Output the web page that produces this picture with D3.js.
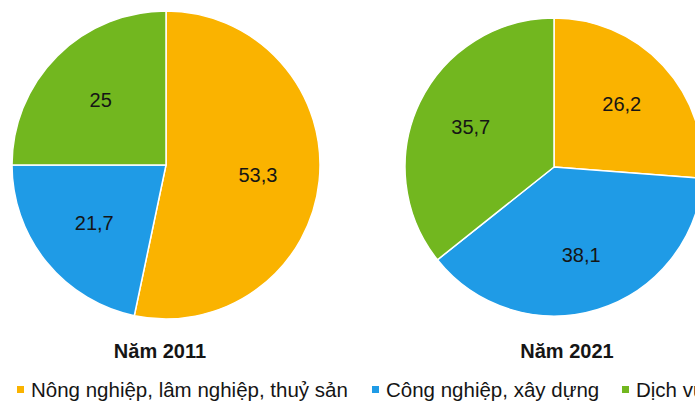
<!DOCTYPE html>
<html>
<head>
<meta charset="utf-8">
<script src="https://cdn.jsdelivr.net/npm/d3@7"></script>
<style>
  html, body { margin: 0; padding: 0; background: #fff; }
  svg { display: block; font-family: "Liberation Sans", Arial, sans-serif; }
</style>
</head>
<body>
<svg id="chart" width="695" height="406"></svg>
<script>
// Cơ cấu kinh tế theo khu vực (%)
const sectors = ["Nông nghiệp, lâm nghiệp, thuỷ sản", "Công nghiệp, xây dựng", "Dịch vụ"];
const years = ["Năm 2011", "Năm 2021"];
const values2011 = [53.3, 21.7, 25];
const values2021 = [26.2, 38.1, 35.7];
const sectorColors = ["#FAB300", "#1F9BE6", "#72B71F"];

const svg = d3.select("#chart");
const color = d3.scaleOrdinal().domain(sectors).range(sectorColors);
const fmt = v => String(v).replace(".", ",");

const pies = [
  { title: years[0], values: values2011, cx: 166, cy: 165, r: 154, titleX: 160, labelK: 0.6 },
  { title: years[1], values: values2021, cx: 554, cy: 167, r: 149, titleX: 567, labelK: 0.62 }
];

const pie = d3.pie().sort(null).value(d => d.value);

pies.forEach(p => {
  const data = sectors.map((s, i) => ({ sector: s, value: p.values[i] }));
  const arcs = pie(data);
  const arc = d3.arc().innerRadius(0).outerRadius(p.r);
  const lr = p.r * p.labelK;
  const labelArc = d3.arc().innerRadius(lr).outerRadius(lr);

  const g = svg.append("g").attr("transform", `translate(${p.cx},${p.cy})`);

  g.selectAll("path")
    .data(arcs)
    .join("path")
    .attr("d", arc)
    .attr("fill", d => color(d.data.sector))
    .attr("stroke", "#fff")
    .attr("stroke-width", 1.5);

  g.selectAll("text")
    .data(arcs)
    .join("text")
    .attr("transform", d => `translate(${labelArc.centroid(d)})`)
    .attr("text-anchor", "middle")
    .attr("dy", "0.35em")
    .attr("font-size", 20)
    .attr("fill", "#151515")
    .text(d => fmt(d.data.value));

  svg.append("text")
    .attr("x", p.titleX)
    .attr("y", 358)
    .attr("text-anchor", "middle")
    .attr("font-size", 20)
    .attr("font-weight", "bold")
    .attr("fill", "#151515")
    .text(p.title);
});

// Chú giải
const legendX = [17, 372, 622];
const legend = svg.append("g");
sectors.forEach((s, i) => {
  const item = legend.append("g").attr("transform", `translate(${legendX[i]},0)`);
  item.append("rect")
    .attr("x", 0).attr("y", 386)
    .attr("width", 7).attr("height", 7)
    .attr("fill", color(s));
  item.append("text")
    .attr("x", 14).attr("y", 397)
    .attr("font-size", 20.5)
    .attr("fill", "#151515")
    .text(s);
});
</script>
</body>
</html>
